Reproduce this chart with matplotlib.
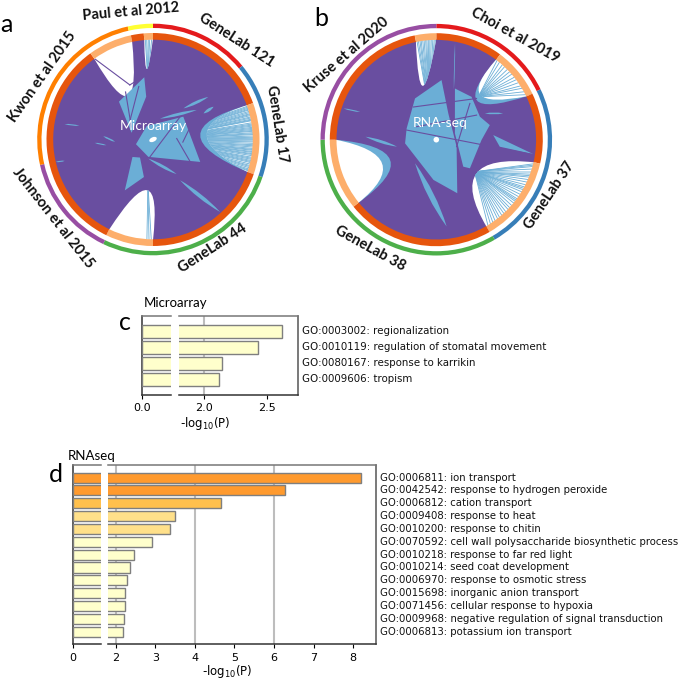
import numpy as np
import matplotlib
matplotlib.use('Agg')
from matplotlib import pyplot as plt
from matplotlib.patches import Wedge, Circle, PathPatch, Ellipse
from matplotlib.path import Path

matplotlib.rcParams.update({'mathtext.default': 'regular', 'font.family': 'DejaVu Sans'})

W, H = 679, 678
PURPLE = '#694EA0'
BLUE = '#6BAED6'
DARK = '#E6550D'
LIGHT = '#FDAE6B'
SECTOR_RED, SECTOR_BLUE, SECTOR_GREEN = '#E41A1C', '#377EB8', '#4DAF4A'
SECTOR_PURPLE, SECTOR_ORANGE, SECTOR_YELLOW = '#984EA3', '#FF7F00', '#FFFF33'

# sector names and the angles they span, degrees clockwise from the top
micro_names = ['GeneLab 121', 'GeneLab 17', 'GeneLab 44', 'Johnson et al 2015', 'Kwon et al 2015', 'Paul et al 2012']
micro_edges = [0, 50.5, 109, 205.5, 257.3, 347.4, 360]
micro_colors = [SECTOR_RED, SECTOR_BLUE, SECTOR_GREEN, SECTOR_PURPLE, SECTOR_ORANGE, SECTOR_YELLOW]
micro_inner = [(0, 70, DARK), (70, 109, LIGHT), (109, 180, DARK), (180, 206, LIGHT),
               (206, 324, DARK), (324, 348, LIGHT), (348, 355, DARK), (355, 360, LIGHT)]
# white gaps in the purple fill: arc start, arc end, tip angle, tip radius
micro_lobes = [(324, 348, 330, 0.50), (70, 109, 85, 0.535), (180, 206, 186.5, 0.506), (355, 360, 355, 0.70)]
# blue edge under a gap: same form, reaching closer to the middle
micro_rims = [(70, 109, 85, 0.47)]
micro_core = [
    [(318, .51), (352, .63), (351, .435), (287.4, .225)],
    [(254.6, .177), (335, .149), (53, .38), (115.4, .524), (195, .18)],
    [(229.6, .27), (215.8, .223), (193.6, .387), (209, .583)],
]
# thin shared-term links: angle, radius, angle, radius, width in px
micro_slivers = [(279.9, .9, 280.6, .75, 1.5), (273.8, .5, 266.5, .38, 2), (266.7, .585, 263, .47, 1.5),
                 (193.8, .197, 145.7, .42, 3), (146.4, .49, 137.2, .99, 4), (44.4, .436, 52.4, .70, 3),
                 (62.7, .57, 61.6, .69, 3), (257, 1.0, 256.4, .91, 1.5), (18.4, .22, 56, .53, 3)]
micro_cross = [(87.6, .238, 121, .436), (190, .177, 50, .355), (324.3, .99, 337, .594), (337, .594, 351, .638),
               (330, .55, 300, .25), (345, .55, 310, .3), (95, .3, 60, .5)]
micro_hairs = {
    1: [70.6, 71.2, 71.8, 72.4, 72.9, 73.7, 74.4, 75.1, 75.6, 76.2, 77.0, 77.6, 78.3, 78.8, 79.2, 80.4, 81.1, 81.7,
        82.3, 83.0, 83.6, 84.2, 84.8, 85.3, 86.1, 86.7, 87.2, 88.0, 88.7, 89.3, 90.1, 90.8, 91.4, 92.2, 93.0, 93.6,
        94.3, 95.1, 95.7, 96.2, 96.9, 97.4, 98.1, 98.6, 99.3, 100.2, 100.8, 101.4, 102.1, 102.7, 103.3, 104.2, 105.0,
        105.6, 106.3, 107.1, 107.7, 108.2],
    2: [181.0, 182.3, 183.5],
    3: [355.6, 356.4, 357.3, 358.1, 359.2],
}
# how close to the middle the hairlines of each gap run together, as a share of the radius
micro_focus = {1: 0.0, 2: 0.45, 3: 0.6}

rna_names = ['Choi et al 2019', 'GeneLab 37', 'GeneLab 38', 'Kruse et al 2020']
rna_edges = [0, 64.2, 149.7, 270, 360]
rna_colors = [SECTOR_RED, SECTOR_BLUE, SECTOR_GREEN, SECTOR_PURPLE]
rna_inner = [(0, 36.8, DARK), (36.8, 64.4, LIGHT), (64.4, 103, DARK), (103, 150, LIGHT),
             (150, 231, DARK), (231, 270, LIGHT), (270, 348.3, DARK), (348.3, 360, LIGHT)]
rna_lobes = [(36.8, 64.4, 44.4, 0.625), (103, 150, 130, 0.52), (231, 270, 246.2, 0.587), (348.3, 360, 346, 0.55)]
rna_rims = [(231, 270, 246.2, 0.50), (36.8, 64.4, 46, 0.56)]
rna_core = [
    [(332.7, .465), (5, .6), (24.5, .29), (109, .215), (158.6, .576), (184, .404), (263.3, .315), (290.9, .318)],
    [(20, .546), (39.4, .556), (62.2, .494), (74.7, .556), (90.4, .453), (130.4, .442), (135, .382), (71, .197)],
    [(85.3, .572), (98.4, .98), (96.3, .64)],
]
rna_slivers = [(288.6, .98, 290, .81, 1.5), (272.4, .71, 260, .40, 3), (222, .318, 173.2, .876, 6),
               (61.6, .553, 68.5, .72, 2), (11, .984, 19.4, .53, 1)]
rna_cross = [(325, .40, 44.3, .577), (288, .312, 98.8, .998), (42.8, .495, 109, .215), (303.5, .236, 58.6, .473)]
rna_hairs = {
    0: [37.5, 39.2, 41.4, 43.1, 45.3, 47.2, 49.0, 51.3, 53.1, 55.2, 57.4, 59.0, 61.3, 63.2],
    1: [104.0, 104.8, 105.6, 107.1, 108.9, 110.2, 111.1, 112.0, 113.5, 115.1, 116.8, 118.2, 119.1, 120.0, 121.4, 123.1,
        124.7, 126.2, 127.1, 128.0, 129.3, 131.1, 132.8, 134.2, 136.0, 137.5, 139.1, 140.8, 142.2, 144.0, 145.6,
        147.2, 148.9],
    3: [348.9, 349.7, 350.6, 351.3, 352.2, 353.0, 353.9, 354.6, 355.4, 356.3, 357.1, 358.0, 358.8, 359.5],
}
rna_focus = {0: 0.6, 1: 0.5, 3: 0.3}

micro_terms = ['GO:0003002: regionalization', 'GO:0010119: regulation of stomatal movement',
               'GO:0080167: response to karrikin', 'GO:0009606: tropism']
micro_values = [2.62, 2.43, 2.146, 2.12]
micro_bar_colors = ['#FFFFCC', '#FFFFCC', '#FFFFCC', '#FFFFCC']

rna_terms = ['GO:0006811: ion transport', 'GO:0042542: response to hydrogen peroxide',
             'GO:0006812: cation transport', 'GO:0009408: response to heat', 'GO:0010200: response to chitin',
             'GO:0070592: cell wall polysaccharide biosynthetic process', 'GO:0010218: response to far red light',
             'GO:0010214: seed coat development', 'GO:0006970: response to osmotic stress',
             'GO:0015698: inorganic anion transport', 'GO:0071456: cellular response to hypoxia',
             'GO:0009968: negative regulation of signal transduction', 'GO:0006813: potassium ion transport']
rna_values = [8.19, 6.29, 4.67, 3.50, 3.37, 2.92, 2.46, 2.36, 2.27, 2.235, 2.235, 2.20, 2.18]
rna_bar_colors = ['#FF9A2E', '#FF9A2E', '#FFC04D', '#FFE08A', '#FFE08A', '#FFFFCC', '#FFFFCC', '#FFFFCC',
                  '#FFFFCC', '#FFFFCC', '#FFFFCC', '#FFFFCC', '#FFFFCC']


def polar(center, radius, angle):
    """Pixel position of a point given clockwise degrees from the top."""
    t = np.radians(angle)
    return center[0] + radius * np.sin(t), center[1] - radius * np.cos(t)


def lobe_path(center, radius, a1, a2, tip_a, tip_r):
    p0 = np.array(polar(center, radius, a1))
    p2 = np.array(polar(center, radius, a2))
    tip = np.array(polar(center, radius * tip_r, tip_a))
    ctrl = 2 * tip - (p0 + p2) / 2
    arc = [polar(center, radius, a) for a in np.linspace(a2, a1, 30)[1:]]
    verts = [p0, ctrl, p2] + arc
    codes = [Path.MOVETO, Path.CURVE3, Path.CURVE3] + [Path.LINETO] * len(arc)
    return Path(verts, codes)


def lens(ax, center, radius, a1, r1, a2, r2, width, color):
    p0 = np.array(polar(center, radius * r1, a1))
    p2 = np.array(polar(center, radius * r2, a2))
    d = p2 - p0
    n = np.array([-d[1], d[0]]) / max(np.hypot(*d), 1e-6)
    mid = (p0 + p2) / 2
    verts = [p0, mid + n * width, p2, mid - n * width, p0]
    codes = [Path.MOVETO, Path.CURVE3, Path.CURVE3, Path.CURVE3, Path.CURVE3]
    ax.add_patch(PathPatch(Path(verts, codes), fc=color, ec='none', zorder=5))


def chord(ax, center, colors, edges, inner, lobes, rims, core, slivers, cross, hairs, focus):
    r_out, r_ring, r_in = 115.8, 106.5, 99.8
    ax.add_patch(Circle(center, r_in + 1, fc=PURPLE, ec='none', zorder=2))
    for a1, a2, tip_a, tip_r in rims:
        ax.add_patch(PathPatch(lobe_path(center, r_in + 1, a1, a2, tip_a, tip_r), fc=BLUE, ec='none', zorder=3))
    for i, (a1, a2, tip_a, tip_r) in enumerate(lobes):
        path = lobe_path(center, r_in + 1, a1, a2, tip_a, tip_r)
        ax.add_patch(PathPatch(path, fc='white', ec='none', zorder=3))
        clip = PathPatch(path, transform=ax.transData, fc='none', ec='none')
        ax.add_patch(clip)
        target = polar(center, r_in * focus.get(i, 0), tip_a)
        for a in hairs.get(i, []):
            x0, y0 = polar(center, r_in, a)
            ln, = ax.plot([x0, target[0]], [y0, target[1]], color=BLUE, lw=0.6, zorder=4)
            ln.set_clip_path(clip)
    for outline in core:
        pts = [polar(center, r_in * r, a) for a, r in outline]
        ax.fill(*zip(*pts), color=BLUE, lw=0, zorder=4)
    for a1, r1, a2, r2, w in slivers:
        lens(ax, center, r_in, a1, r1, a2, r2, w, BLUE)
    for a1, r1, a2, r2 in cross:
        p = [polar(center, r_in * r1, a1), polar(center, r_in * r2, a2)]
        ax.plot(*zip(*p), color=PURPLE, lw=0.8, zorder=6)
    for a1, a2, col in inner:
        ax.add_patch(Wedge(center, r_ring, a1 - 90, a2 - 90, width=r_ring - r_in, fc=col, ec='none', zorder=7))
    for i, col in enumerate(colors):
        ax.add_patch(Wedge(center, r_out, edges[i] - 90, edges[i + 1] - 90, width=4.3, fc=col, ec='none', zorder=7))


def broken_bars(fig, box, split, xlim, left_max, values, colors, terms, tick_l, tick_r, grid, fmt, term_size):
    """Bars on two axes with a white break between them; box is x0, x1, y_top, y_bottom in px."""
    x0, x1, y_top, y_bot = box
    rect = lambda a, b: [a / W, 1 - y_bot / H, (b - a) / W, (y_bot - y_top) / H]
    axl = fig.add_axes(rect(x0, split[0]))
    axr = fig.add_axes(rect(split[1], x1))
    y = np.arange(len(values))
    for ax in (axl, axr):
        ax.barh(y, values, height=0.78, color=colors, edgecolor='#7F7F7F', linewidth=1.0, zorder=3)
        ax.set_ylim(len(values) - 0.02, -0.98)
        ax.set_yticks([])
        ax.tick_params(axis='x', labelsize=8, length=3, width=0.8, pad=3)
        ax.spines['top'].set_color('#777777')
        ax.spines['right'].set_color('#555555')
        ax.spines['bottom'].set_color('#333333')
        ax.spines['left'].set_color('#333333')
        for s in ax.spines.values():
            s.set_linewidth(1.1)
    axl.set_xlim(0, left_max)
    axr.set_xlim(*xlim)
    axl.spines['right'].set_visible(False)
    axr.spines['left'].set_visible(False)
    axl.set_xticks(tick_l, [fmt % v for v in tick_l])
    axr.set_xticks(tick_r, [fmt % v for v in tick_r])
    for v in grid:
        axr.axvline(v, color='#BDBDBD', lw=1.5, zorder=1)
    for i, term in enumerate(terms):
        axr.annotate(term, xy=(1, i), xycoords=axr.get_yaxis_transform(), xytext=(3, 0),
                     textcoords='offset points', va='center', ha='left', fontsize=term_size, color='#111111')
    return axl, axr


def main():
    fig = plt.figure(figsize=(W / 100, H / 100), dpi=100)
    back = fig.add_axes([0, 0, 1, 1])
    back.set_xlim(0, W)
    back.set_ylim(H, 0)
    back.axis('off')

    c_a, c_b = (153, 139.5), (436.3, 139.7)
    chord(back, c_a, micro_colors, micro_edges, micro_inner, micro_lobes, micro_rims, micro_core,
          micro_slivers, micro_cross, micro_hairs, micro_focus)
    chord(back, c_b, rna_colors, rna_edges, rna_inner, rna_lobes, rna_rims, rna_core,
          rna_slivers, rna_cross, rna_hairs, rna_focus)
    back.add_patch(Ellipse(c_a, 8, 4.5, angle=-25, fc='white', ec='none', zorder=8))
    back.add_patch(Circle(c_b, 2.8, fc='white', ec='none', zorder=8))

    sans = ['Lato', 'DejaVu Sans']
    label_pos = {'Paul et al 2012': (131, 12, 5), 'GeneLab 121': (237, 40, -33), 'GeneLab 17': (277, 124, -81),
                 'GeneLab 44': (213, 248, 33), 'Johnson et al 2015': (53, 218, -52), 'Kwon et al 2015': (42, 77, 55),
                 'Choi et al 2019': (515, 35, -29), 'GeneLab 37': (550, 195, 56), 'GeneLab 38': (370, 248, -29),
                 'Kruse et al 2020': (347, 55, 41)}
    for name, (x, y, rot) in label_pos.items():
        back.text(x, y, name, rotation=rot, rotation_mode='anchor', ha='center', va='center',
                  fontsize=10.5, fontweight='bold', family=sans, color='#111111', zorder=9)
    back.text(153, 126, 'Microarray', color='white', fontsize=10, family=sans, ha='center', va='center', zorder=9)
    back.text(440, 123, 'RNA-seq', color='white', fontsize=10, family=sans, ha='center', va='center', zorder=9)
    for s, x, y in [('a', 6, 24), ('b', 321, 19), ('c', 125, 322), ('d', 56, 474)]:
        back.text(x, y, s, fontsize=18, family=sans, ha='center', va='center', zorder=9)
    back.text(176, 303, 'Microarray', fontsize=9.5, family=sans, ha='center', va='center')
    back.text(92, 456, 'RNAseq', fontsize=9.5, family=sans, ha='center', va='center')
    back.text(205, 424, '-log$_{10}$(P)', fontsize=8.5, ha='center', va='center')
    back.text(227, 671, '-log$_{10}$(P)', fontsize=8.5, ha='center', va='center')

    broken_bars(fig, (142, 298, 315.7, 395), (171, 179), (1.80, 2.75), 0.231, micro_values, micro_bar_colors,
                micro_terms, [0.0], [2.0, 2.5], [2.0], '%.1f', 7.4)
    broken_bars(fig, (72.5, 376, 465, 644.3), (101, 108), (1.80, 8.58), 0.73, rna_values, rna_bar_colors,
                rna_terms, [0], [2, 3, 4, 5, 6, 7, 8], [2, 4, 6], '%d', 7.25)

    fig.savefig('out.png', dpi=100)


if __name__ == '__main__':
    main()
